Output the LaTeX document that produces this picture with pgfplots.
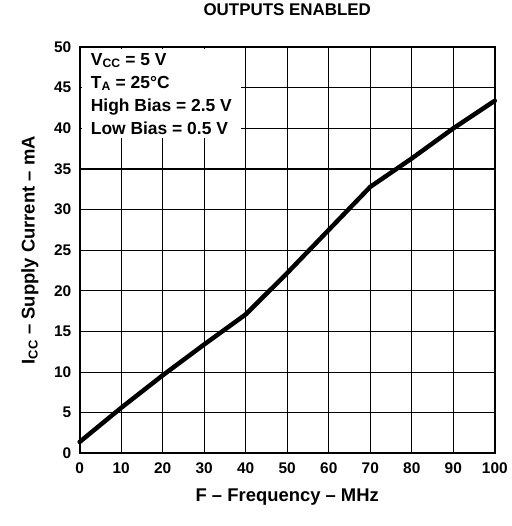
\documentclass[border=0pt]{standalone}
\usepackage{fontspec}
\setmainfont{Liberation Sans}
\usepackage{pgfplots}
\pgfplotsset{compat=1.18}

\begin{document}
\begin{tikzpicture}
\begin{axis}[
    scale only axis,
    width=417bp, height=408bp,
    xmin=0, xmax=100,
    ymin=0, ymax=50,
    xtick={0,10,...,100},
    ytick={0,5,...,50},
    major tick length=0pt,
    grid=major,
    grid style={black, line width=1.1bp},
    axis line style={black, line width=2bp},
    /pgf/number format/assume math mode=true,
    tick label style={font=\fontsize{15.5bp}{17bp}\selectfont\bfseries},
    xticklabel style={yshift=-6bp},
    yticklabel style={xshift=-5bp},
    title={OUTPUTS ENABLED},
    title style={at={(rel axis cs:0.5,1)}, anchor=center, yshift=32bp,
        font=\fontsize{17bp}{19bp}\selectfont\bfseries},
    xlabel={F -- Frequency -- MHz},
    ylabel={I\textsubscript{CC} -- Supply Current -- mA},
    every axis x label/.style={at={(rel axis cs:0.5,0)}, anchor=center, yshift=-44bp,
        font=\fontsize{18.5bp}{20bp}\selectfont\bfseries},
    every axis y label/.style={at={(rel axis cs:0,0.5)}, anchor=center, xshift=-50bp,
        rotate=90, font=\fontsize{18.5bp}{20bp}\selectfont\bfseries},
    clip=false,
]
\addplot[black, line width=4.5bp, line join=round, line cap=round] coordinates {
    (0,1.4) (10,5.6) (20,9.6) (30,13.4) (40,17.1) (50,22.2)
    (60,27.5) (70,32.8) (80,36.3) (90,40.0) (100,43.4)
};
\node[anchor=north west, fill=white, inner xsep=9bp, inner ysep=4bp, align=left,
      font=\fontsize{17.5bp}{23bp}\selectfont\bfseries]
    at (rel axis cs:0.005,0.995)
    {V\textsubscript{CC} = 5 V\\
     T\textsubscript{A} = 25°C\\
     High Bias = 2.5 V\\
     Low Bias = 0.5 V};
\end{axis}
\path (current axis.south west) ++(-80bp,-73bp) coordinate (bl);
\path (current axis.north east) ++(15bp,45bp) coordinate (tr);
\useasboundingbox (bl) rectangle (tr);
\end{tikzpicture}
\end{document}
